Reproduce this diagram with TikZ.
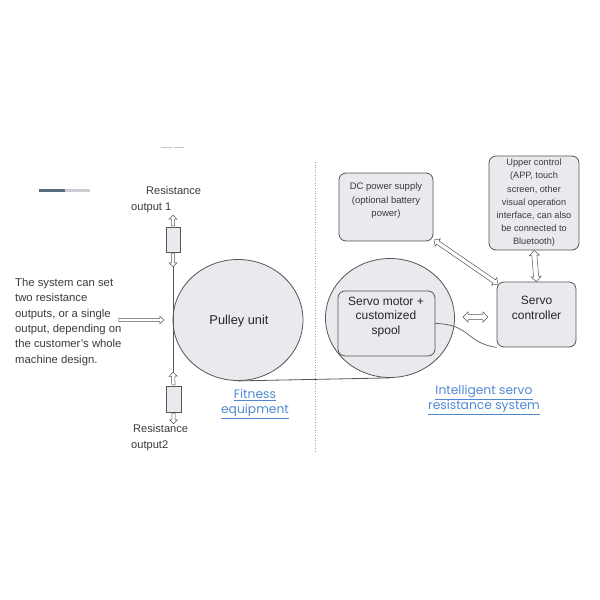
\documentclass[tikz,border=0pt]{standalone}
\usepackage{fontspec}
\setmainfont{Liberation Sans}
\newfontfamily\linkfont{Poppins}
\usetikzlibrary{shapes.geometric,shapes.arrows,calc}
\definecolor{fillg}{HTML}{E8EAED}
\definecolor{lineg}{HTML}{555555}
\definecolor{txt}{HTML}{3A3A3A}
\definecolor{linkblue}{HTML}{5188D2}
\definecolor{bardark}{HTML}{5B6B82}
\definecolor{barlight}{HTML}{C9CDD3}
\newcommand\hconn[3]{\path let \p1=(#2), \p2=(#3), \n1={veclen(\x2-\x1,\y2-\y1)} in (\p1) -- (\p2) node[midway, #1, minimum height=\n1]{};}
\begin{document}
\begin{tikzpicture}[x=1pt,y=-1pt,
  blob/.style={ellipse, draw=lineg, fill=fillg, line width=0.8pt, inner sep=0pt},
  rbox/.style={rectangle, rounded corners=7pt, draw=lineg, fill=fillg, line width=0.8pt, inner sep=0pt},
  resbox/.style={rectangle, draw=lineg, fill=fillg, line width=0.6pt, minimum width=14pt, minimum height=25pt, inner sep=0pt},
  lbl/.style={text=txt, align=center, inner sep=0pt},
  harrow/.style={single arrow, draw=lineg, fill=white, line width=0.5pt, inner sep=1.4pt, single arrow head extend=2.4pt, single arrow head indent=0pt, sloped, allow upside down, anchor=center},
  darrow/.style={double arrow, draw=lineg, fill=white, line width=0.5pt, inner sep=#1, double arrow head extend=2.5pt, double arrow head indent=0pt, sloped, allow upside down, anchor=center},
  darrow/.default=1.5pt,
  link/.style={text=linkblue, align=center, inner sep=0pt, font=\linkfont\fontsize{12.3}{14.5}\selectfont}
]
\useasboundingbox (0,0) rectangle (600,600);

% small decorative marks
\draw[line width=3pt, color=bardark] (39,190) coordinate (bara) -- (65,190) coordinate (barb);
\draw[line width=3pt, color=barlight] (barb) -- (90,190) coordinate (barc);
\draw[line width=0.8pt, color=gray!45] (161,147) coordinate (da) -- (172,147) coordinate (db);
\draw[line width=0.8pt, color=gray!45] (174,147) coordinate (dc) -- (184,147) coordinate (dd);

% divider
\draw[gray!70, dotted, line width=0.6pt] (315,162) coordinate (divt) -- (315,452) coordinate (divb);

% main shapes
\node[blob, minimum width=130pt, minimum height=121pt] (pulley) at (238,320) {};
\node[lbl, font=\fontsize{12.8}{15}\selectfont, text=black!85] (pulleyt) at (239,321) {Pulley unit};

\node[blob, minimum width=129pt, minimum height=119pt] (servo) at (390,318) {};
\node[rbox, minimum width=97pt, minimum height=65pt] (spool) at (386.5,323.5) {};
\node[lbl, font=\fontsize{12}{14.5}\selectfont, text=black!85] (spoolt) at (386,317) {Servo motor +\\customized\\spool};

\node[rbox, minimum width=79pt, minimum height=65pt] (ctrl) at (536.5,314.5) {};
\node[lbl, font=\fontsize{12}{14.5}\selectfont, text=black!85] (ctrlt) at (536.5,308) {Servo\\controller};

\node[rbox, minimum width=94pt, minimum height=68pt] (dc) at (386,207) {};
\node[lbl, font=\fontsize{9.5}{13.5}\selectfont] (dct) at (386,201) {DC power supply\\(optional battery\\power)};

\node[rbox, minimum width=90pt, minimum height=94pt] (up) at (534,203) {};
\node[lbl, font=\fontsize{9.2}{13.2}\selectfont] (upt) at (534,203) {Upper control\\(APP, touch\\screen, other\\visual operation\\interface, can also\\be connected to\\Bluetooth)};

% resistance outputs
\node[resbox] (r1) at (173,239.5) {};
\node[resbox, minimum height=26pt, minimum width=15pt] (r2) at (173.5,399) {};
\coordinate (r1top) at (173,216);
\coordinate (r1bot) at (173,266);
\coordinate (r2top) at (173,373);
\coordinate (r2bot) at (173.5,423);
\draw[lineg, line width=0.8pt] (r1bot) -- (r2top);
\hconn{harrow}{r1.north}{r1top}
\hconn{harrow}{r1.south}{r1bot}
\hconn{harrow}{r2.north}{r2top}
\hconn{harrow}{r2.south}{r2bot}

\node[lbl, anchor=base west] (res1a) at (146,194) {\fontsize{11.1}{13}\selectfont Resistance};
\node[lbl, anchor=base west] (res1b) at (131,210) {\fontsize{11.1}{13}\selectfont output 1};
\node[lbl, anchor=base west] (res2a) at (133,432) {\fontsize{11.1}{13}\selectfont Resistance};
\node[lbl, anchor=base west] (res2b) at (131,448) {\fontsize{11.1}{13}\selectfont output2};

% left explanation
\node[lbl, align=left, anchor=north west, font=\fontsize{11.3}{15.4}\selectfont] (expl) at (15,278) {The system can set\\two resistance\\outputs, or a single\\output, depending on\\the customer's whole\\machine design.};
\coordinate (ea) at (118,320);
\coordinate (eb) at (163,320);
\hconn{harrow}{ea}{eb}

% belt
\draw[lineg, line width=0.8pt] (pulley.south) -- (servo.south);
\draw[lineg, line width=0.7pt] (spool.east) .. controls (470,324) and (466,343) .. (ctrl.south west);

% double arrows
\coordinate (dca) at (434,240);
\coordinate (dcb) at (498,284);
\hconn{darrow=1.8pt}{dca}{dcb}
\hconn{darrow=2.3pt}{up.south}{ctrl.north}
\coordinate (sa) at (463,317);
\coordinate (sb) at (488,317);
\hconn{darrow=2.3pt}{sa}{sb}

% links
\node[link] (fit) at (255,404) {\underline{Fitness}\\\underline{equipment}};
\node[link] (isr) at (484,400) {\underline{Intelligent servo}\\\underline{resistance system}};
\end{tikzpicture}
\end{document}
